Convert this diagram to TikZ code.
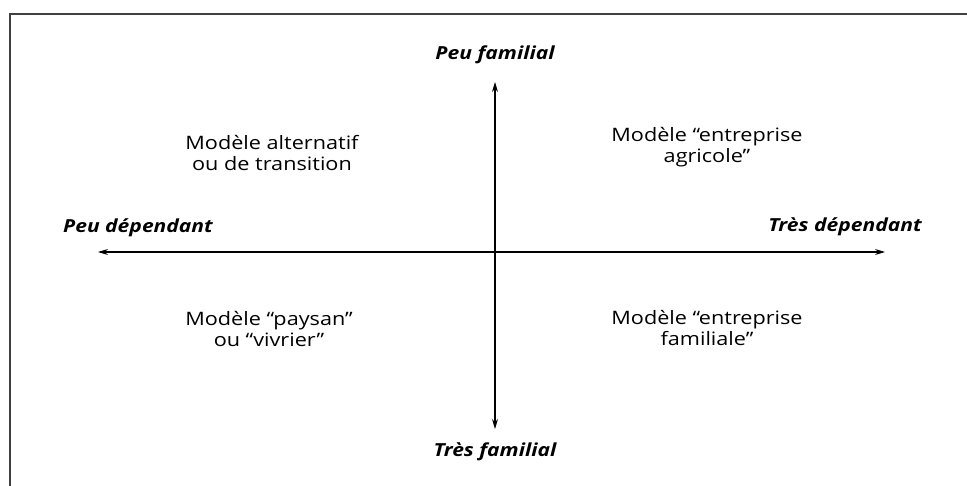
\documentclass[tikz,border=0pt]{standalone}
\usepackage{fontspec}
\setmainfont{Open Sans}
\newfontfamily\widesans[FakeStretch=1.17]{Open Sans}
\usetikzlibrary{arrows.meta}
\begin{document}
\begin{tikzpicture}[x=1pt,y=-1pt,
  axis/.style={line width=1.1pt,{Stealth[length=10pt,width=6pt]}-{Stealth[length=10pt,width=6pt]}},
  axlabel/.style={font=\widesans\fontsize{18}{21}\selectfont\bfseries\itshape,inner sep=0pt},
  quad/.style={font=\widesans\fontsize{18.5}{20.5}\selectfont,align=center,inner sep=0pt},
  frame/.style={line width=1.6pt,draw=black!75}]
\useasboundingbox (0,0) rectangle (967,486);
\coordinate (tl) at (10,14);
\coordinate (tr) at (967,14);
\coordinate (bl) at (10,486);
\draw[frame] (bl) -- (tl) -- (tr);
\coordinate (L) at (98,252);
\coordinate (R) at (885,252);
\coordinate (T) at (495,82);
\coordinate (B) at (495,429);
\draw[axis] (L) -- (R);
\draw[axis] (T) -- (B);
\node[axlabel] (pf) at (495,55) {Peu familial};
\node[axlabel] (tf) at (495,452) {Très familial};
\node[axlabel] (pd) at (138,228) {Peu dépendant};
\node[axlabel] (td) at (845,227) {Très dépendant};
\node[quad] (q1) at (272,153) {Modèle alternatif\\ou de transition};
\node[quad] (q2) at (707,147) {Modèle “entreprise\\agricole”};
\node[quad] (q3) at (269,329) {Modèle “paysan”\\ou “vivrier”};
\node[quad] (q4) at (707,328) {Modèle “entreprise\\familiale”};
\end{tikzpicture}
\end{document}
